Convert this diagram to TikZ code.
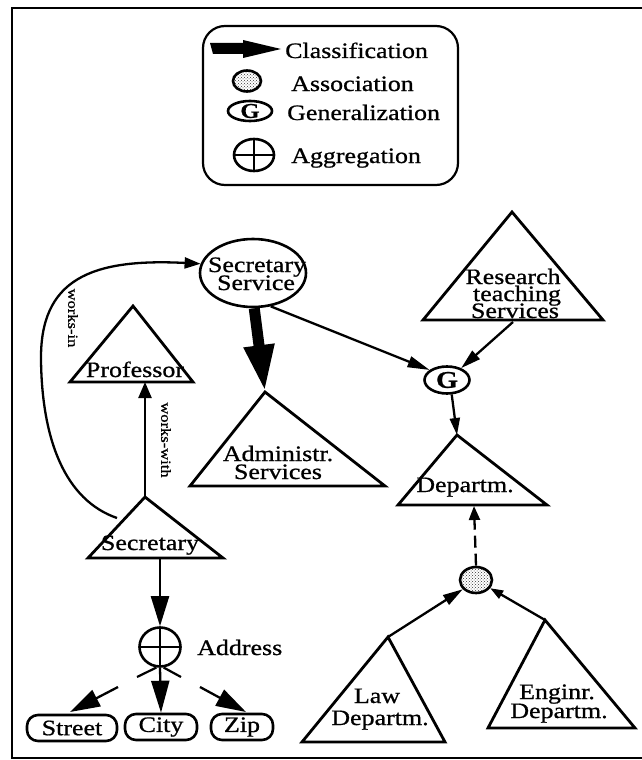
\documentclass[tikz,border=0pt]{standalone}
\usepackage{fontspec}
\setmainfont{Liberation Serif}[FakeStretch=1.18,FakeBold=0.8]
\usetikzlibrary{arrows.meta,shapes.geometric,patterns}
\begin{document}
\begin{tikzpicture}[x=1pt,y=-1pt,
  lbl/.style={font=\fontsize{22}{16}\selectfont,inner sep=0pt,anchor=base},
  vlbl/.style={font=\fontsize{14}{14}\selectfont,inner sep=0pt,rotate=-90},
  tri/.style={line width=2.8pt,line join=miter},
  conn/.style={line width=2.3pt,-{Triangle[length=18pt,width=11pt]}},
  assocnode/.style={ellipse,draw,line width=2.6pt,inner sep=0pt,
    pattern=crosshatch dots,pattern color=black!80},
  gennode/.style={ellipse,draw,line width=2.6pt,inner sep=0pt,
    font=\fontsize{24}{24}\selectfont\bfseries},
  aggnode/.style={ellipse,draw,line width=2.6pt,inner sep=0pt,
    path picture={\draw[line width=2.2pt]
      (path picture bounding box.north) -- (path picture bounding box.south)
      (path picture bounding box.west) -- (path picture bounding box.east);}},
  leaf/.style={draw,line width=2.6pt,rounded corners=11pt,inner sep=0pt,
    minimum height=26pt,font=\fontsize{22}{22}\selectfont},
]
\useasboundingbox (0,0) rectangle (641,760);

% outer frame
\draw[line width=2.6pt] (12,8) rectangle (670,758);

% ---------- legend ----------
\draw[line width=2.2pt,rounded corners=22pt] (203,26) rectangle (458,185);
\fill (210,43) -- (243,43) -- (243,40) -- (281,49) -- (243,58) -- (243,54)
  -- (213,54) -- cycle;
\node[lbl,anchor=base west] (lgcl) at (285,58) {Classification};
\node[assocnode,minimum width=28pt,minimum height=21pt] (lgas) at (247,81) {};
\node[lbl,anchor=base west] (lgast) at (291,91) {Association};
\node[gennode,minimum width=44pt,minimum height=20pt,
  font=\fontsize{21}{21}\selectfont\bfseries] (lgge) at (250,111) {G};
\node[lbl,anchor=base west] (lggt) at (287,120) {Generalization};
\node[aggnode,minimum width=40pt,minimum height=32pt] (lgag) at (254,155) {};
\node[lbl,anchor=base west] (lgagt) at (291,163) {Aggregation};

% ---------- objects ----------
% Secretary Service
\node[ellipse,draw,line width=2.6pt,minimum width=106pt,minimum height=68pt]
  (secsvc) at (253,273) {};
\node[lbl] (secsvc1) at (257,272) {Secretary};
\node[lbl] (secsvc2) at (256,290) {Service};

% Professor
\coordinate (prT) at (133,306); \coordinate (prL) at (70,382);
\coordinate (prR) at (193,382); \coordinate (prB) at (145,382);
\draw[tri] (prT) -- (prL) -- (prR) -- cycle;
\node[lbl] (prof) at (135,377) {Professor};

% Administr. Services
\coordinate (adT) at (265,392); \coordinate (adL) at (190,486);
\coordinate (adR) at (385,486);
\draw[tri] (adT) -- (adL) -- (adR) -- cycle;
\node[lbl] (adm1) at (278,461) {Administr.};
\node[lbl] (adm2) at (278,479) {Services};

% Secretary
\coordinate (seT) at (145,497); \coordinate (seL) at (88,558);
\coordinate (seR) at (223,558); \coordinate (seB) at (160,558);
\coordinate (seW) at (117,518);
\draw[tri] (seT) -- (seL) -- (seR) -- cycle;
\node[lbl] (secr) at (150,550) {Secretary};

% Research teaching Services
\coordinate (reT) at (512,212); \coordinate (reL) at (423,320);
\coordinate (reR) at (603,320); \coordinate (reB) at (513,322);
\draw[tri] (reT) -- (reL) -- (reR) -- cycle;
\node[lbl] (res1) at (513,284) {Research};
\node[lbl] (res2) at (517,301) {teaching};
\node[lbl] (res3) at (515,318) {Services};

% Departm.
\coordinate (dpT) at (457,435); \coordinate (dpL) at (398,505);
\coordinate (dpR) at (547,505); \coordinate (dpB) at (474,506);
\draw[tri] (dpT) -- (dpL) -- (dpR) -- cycle;
\node[lbl] (dep) at (465,492) {Departm.};

% Law Departm.
\coordinate (lwT) at (388,637); \coordinate (lwL) at (302,742);
\coordinate (lwR) at (445,742);
\draw[tri] (lwT) -- (lwL) -- (lwR) -- cycle;
\node[lbl] (law1) at (377,703) {Law};
\node[lbl] (law2) at (380,725) {Departm.};

% Enginr. Departm.
\coordinate (enT) at (545,620); \coordinate (enL) at (488,728);
\coordinate (enR) at (635,728);
\draw[tri] (enT) -- (enL) -- (enR) -- cycle;
\node[lbl] (eng1) at (557,699) {Enginr.};
\node[lbl] (eng2) at (559,718) {Departm.};

% generalization and association points
\node[gennode,minimum width=45pt,minimum height=27pt] (gen) at (447,380) {G};
\node[assocnode,minimum width=32pt,minimum height=26pt] (asc) at (476,580) {};

% Address aggregation
\node[aggnode,minimum width=41pt,minimum height=39pt] (agg) at (160,647) {};
\node[lbl,anchor=base west] (addr) at (197,655) {Address};
\coordinate (aggL) at (137,677); \coordinate (aggR) at (181,677);
\draw[line width=2.2pt] (aggL) -- (agg.-100) (agg.-80) -- (aggR);

\node[leaf,minimum width=90pt] (street) at (72,728) {Street};
\node[leaf,minimum width=72pt] (city) at (161,727) {City};
\node[leaf,minimum width=62pt] (zip) at (242,727) {Zip};
\coordinate (stA) at (118,687); \coordinate (stB) at (70,712);
\coordinate (zpA) at (200,687); \coordinate (zpB) at (246,712);

% ---------- connectors ----------
% works-in
\draw[line width=2.3pt,-{Triangle[length=16pt,width=11pt]}]
  (seW) .. controls (65,500) and (42,440) .. (41,360)
  .. controls (40,280) and (90,258) .. (secsvc.170);
\node[vlbl] (wkin) at (73,318) {works-in};
% works-with
\draw[conn,-{Triangle[length=16pt,width=13pt]}] (seT) -- (prB);
\node[vlbl] (wkwith) at (166,440) {works-with};
% classification
\draw[line width=11pt,-{Triangle[length=47pt,width=28pt]}]
  (secsvc.-88) -- (adT);
% generalization
\draw[conn,-{Triangle[length=22pt,width=11pt]}] (secsvc.-62) -- (gen.150);
\draw[conn,-{Triangle[length=20pt,width=11pt]}] (reB) -- (gen.40);
\draw[conn,-{Triangle[length=17pt,width=10pt]}] (gen.-72) -- (dpT);
% association
\draw[conn,dash pattern=on 12pt off 6pt,-{Triangle[length=14pt,width=11pt]}]
  (asc.north) -- (dpB);
\draw[conn,-{Triangle[length=20pt,width=11pt]}] (lwT) -- (asc.215);
\draw[conn,-{Triangle[length=13pt,width=9pt]}] (enT) -- (asc.-30);
% aggregation
\draw[conn,-{Triangle[length=30pt,width=18pt]}] (seB) -- (agg.north);
\draw[conn,-{Triangle[length=32pt,width=18pt]}] (agg.south) -- (city.north);
\draw[conn,-{Triangle[length=30pt,width=18pt]}] (stA) -- (stB);
\draw[conn,-{Triangle[length=30pt,width=18pt]}] (zpA) -- (zpB);
\end{tikzpicture}
\end{document}
